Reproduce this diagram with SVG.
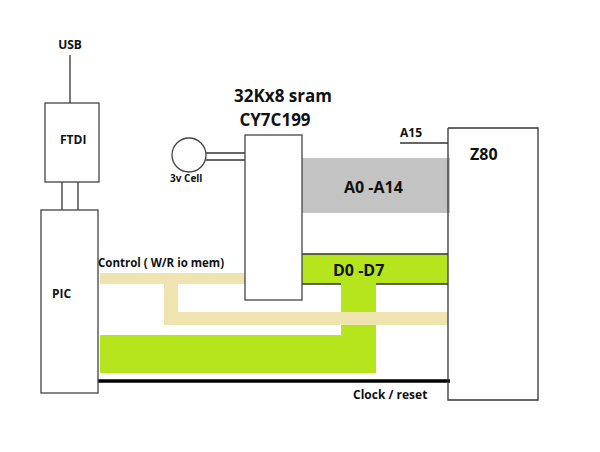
<svg xmlns="http://www.w3.org/2000/svg" width="600" height="452" viewBox="0 0 600 452">
<style>
.b{fill:#fff;stroke:#444;stroke-width:1.3}
.l{stroke:#333;stroke-width:1.3;fill:none}
text{font-family:"Open Sans","Liberation Sans",sans-serif;font-weight:bold;fill:#111}
</style>
<rect width="600" height="452" fill="#fff"/>
<g id="connectors">
<line class="l" x1="70" y1="55" x2="70" y2="103"/>
<line class="l" x1="62" y1="182" x2="62" y2="210"/>
<line class="l" x1="78" y1="182" x2="78" y2="210"/>
<line class="l" x1="206" y1="153" x2="245" y2="153"/>
<line class="l" x1="206" y1="160" x2="245" y2="160"/>
<line class="l" x1="400" y1="143" x2="448" y2="143"/>
<rect x="302" y="158" width="148" height="55" fill="#c3c3c3"/>
<rect x="302" y="254" width="146" height="30" fill="#b5e61d"/>
<line class="l" x1="302" y1="254" x2="448" y2="254"/>
<line class="l" x1="302" y1="284" x2="341" y2="284"/>
<line class="l" x1="376" y1="284" x2="448" y2="284"/>
<rect x="341" y="284" width="35" height="89" fill="#b5e61d"/>
<rect x="100" y="335" width="276" height="38" fill="#b5e61d"/>
<rect x="100" y="273" width="145" height="11" fill="#efe4b0"/>
<rect x="164" y="284" width="14" height="41" fill="#efe4b0"/>
<rect x="164" y="312" width="284" height="13" fill="#efe4b0"/>
<line x1="97" y1="381" x2="450" y2="381" stroke="#000" stroke-width="3.5"/>
</g>
<g id="usb"><text x="70" y="49" font-size="12" text-anchor="middle">USB</text></g>
<g id="ftdi"><rect class="b" x="45" y="103" width="54" height="79"/><text x="60" y="144" font-size="12">FTDI</text></g>
<g id="pic"><rect class="b" x="41" y="210" width="57" height="183"/><text x="52" y="298" font-size="12">PIC</text></g>
<g id="cell"><circle class="b" cx="189" cy="155" r="17"/><text x="170" y="182" font-size="10">3v Cell</text></g>
<g id="sram"><rect class="b" x="245" y="135" width="57" height="165"/><text x="283" y="102" font-size="17" text-anchor="middle">32Kx8 sram</text><text x="275" y="126" font-size="17" text-anchor="middle">CY7C199</text></g>
<g id="z80"><path class="l" d="M448 128H538V400H448V381"/><line class="l" x1="448" y1="128" x2="448" y2="381"/><text x="470" y="160" font-size="16">Z80</text></g>
<g id="labels">
<text x="400" y="137" font-size="12">A15</text>
<text x="344" y="193" font-size="16">A0 -A14</text>
<text x="333" y="276" font-size="16">D0 -D7</text>
<text x="98" y="267" font-size="11.5">Control ( W/R io mem)</text>
<text x="353" y="399" font-size="12">Clock / reset</text>
</g>
</svg>
